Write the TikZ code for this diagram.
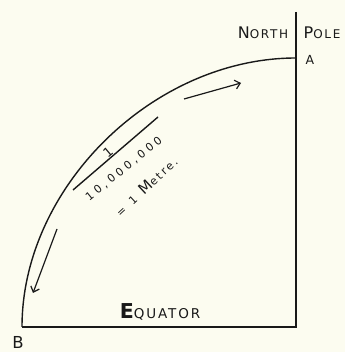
\documentclass[tikz,border=0pt]{standalone}
\usepackage{fontspec}
\setmainfont{DejaVu Sans}
\usetikzlibrary{arrows.meta}

\definecolor{paper}{RGB}{252,252,240}
\definecolor{ink}{RGB}{25,25,25}
% big first letter, smaller capitals after it
\newcommand{\bigsmall}[4]{{\fontsize{#3}{#3}\selectfont #1}{\fontsize{#4}{#4}\selectfont\addfontfeature{LetterSpace=14}#2}}
\newcommand{\spaced}[2]{\fontsize{#1}{#1}\selectfont\addfontfeature{LetterSpace=#2}}

\begin{document}
\begin{tikzpicture}[
  x=1pt, y=1pt,
  line width=1.4pt, draw=ink,
  lbl/.style={inner sep=0pt, text=ink},
  pointer/.style={-{Straight Barb[length=5pt,width=9pt]}, line width=1.2pt}]
\fill[paper] (0,0) rectangle (345,352);
\useasboundingbox (0,0) rectangle (345,352);

% meridian quadrant
\coordinate (T) at (296,340);
\coordinate (O) at (296,25);
\coordinate (A) at (296,294);
\coordinate (B) at (22,25);
\draw (T) -- (O) -- (B);
\draw (A) .. controls (153.5,294) and (22,165) .. (B);

% labels
\node[lbl] (north) at (263,319) {\bigsmall{N}{ORTH}{16}{12}};
\node[lbl] (pole) at (322,319) {\bigsmall{P}{OLE}{16}{12}};
\node[lbl] (a) at (310,292) {\fontsize{12.5}{12.5}\selectfont A};
\node[lbl] (b) at (18,10) {\fontsize{16.5}{16.5}\selectfont B};
\node[lbl] (equator) at (160,40) {\bigsmall{\bfseries E}{QUATOR}{20.5}{13.5}};

% the fraction
\coordinate (L1) at (73,162);
\coordinate (L2) at (158,235);
\draw (L1) -- (L2);
\node[lbl, rotate=40] (one) at (108,200) {\fontsize{13}{13}\selectfont 1};
\node[lbl, rotate=39] (num) at (124,183) {\spaced{11}{32}10,000,000};
\node[lbl, rotate=43] (metre) at (146,166) {\spaced{11}{20}=\hspace{8pt}1\hspace{8pt}{\fontsize{15}{15}\selectfont M}etre.};

% arrows along the arc
\coordinate (p1) at (184,253);
\coordinate (p2) at (241,269);
\coordinate (q1) at (57,123);
\coordinate (q2) at (33,59);
\draw[pointer] (p1) -- (p2);
\draw[pointer] (q1) -- (q2);
\end{tikzpicture}
\end{document}
